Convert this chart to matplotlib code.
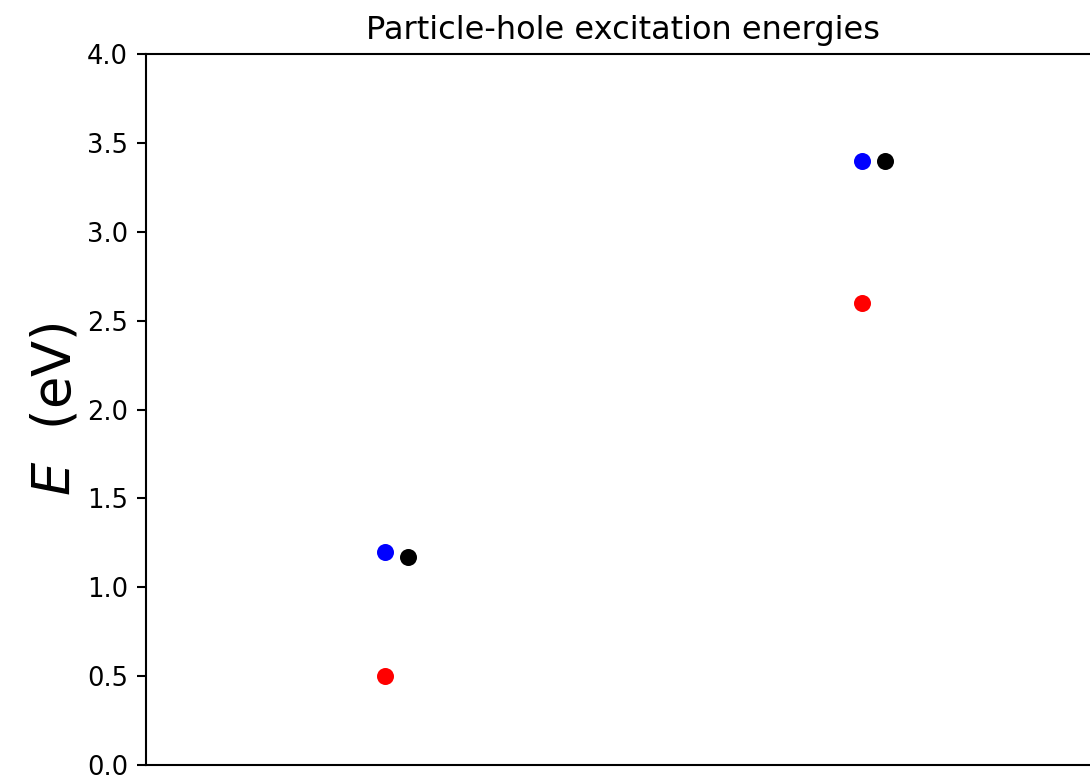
import numpy as np
import matplotlib
matplotlib.use("Agg")
import matplotlib.pyplot as plt

# two excitation groups, three methods each
x_pos = [1, 2]
offset = 0.05
e_blue = [1.2, 3.4]
e_red = [0.5, 2.6]
e_black = [1.17, 3.4]

fig = plt.figure(figsize=(10.9, 7.78), dpi=100)
# axes right edge runs just past the figure edge, as in the original crop
ax = fig.add_axes([146 / 1090, 13 / 778, (1100 - 146) / 1090, (765 - 54) / 778])

ax.scatter(x_pos, e_blue, s=150, color="blue", zorder=3, linewidths=0)
ax.scatter(x_pos, e_red, s=150, color="red", zorder=3, linewidths=0)
ax.scatter([x + offset for x in x_pos], e_black, s=150, color="black",
           zorder=3, linewidths=0)

ax.set_xlim(0.5, 2.5)
ax.set_ylim(0, 4)
ax.set_yticks(np.arange(0, 4.01, 0.5))
ax.set_xticks([])
ax.tick_params(axis="y", labelsize=18.5, length=6.5, width=1.5, pad=6.5)
for sp in ax.spines.values():
    sp.set_linewidth(1.5)

ax.set_ylabel(r"$E$  (eV)", fontsize=38, labelpad=4)
ax.set_title("Particle-hole excitation energies", fontsize=23, pad=11)

fig.savefig("out.png", dpi=100)
